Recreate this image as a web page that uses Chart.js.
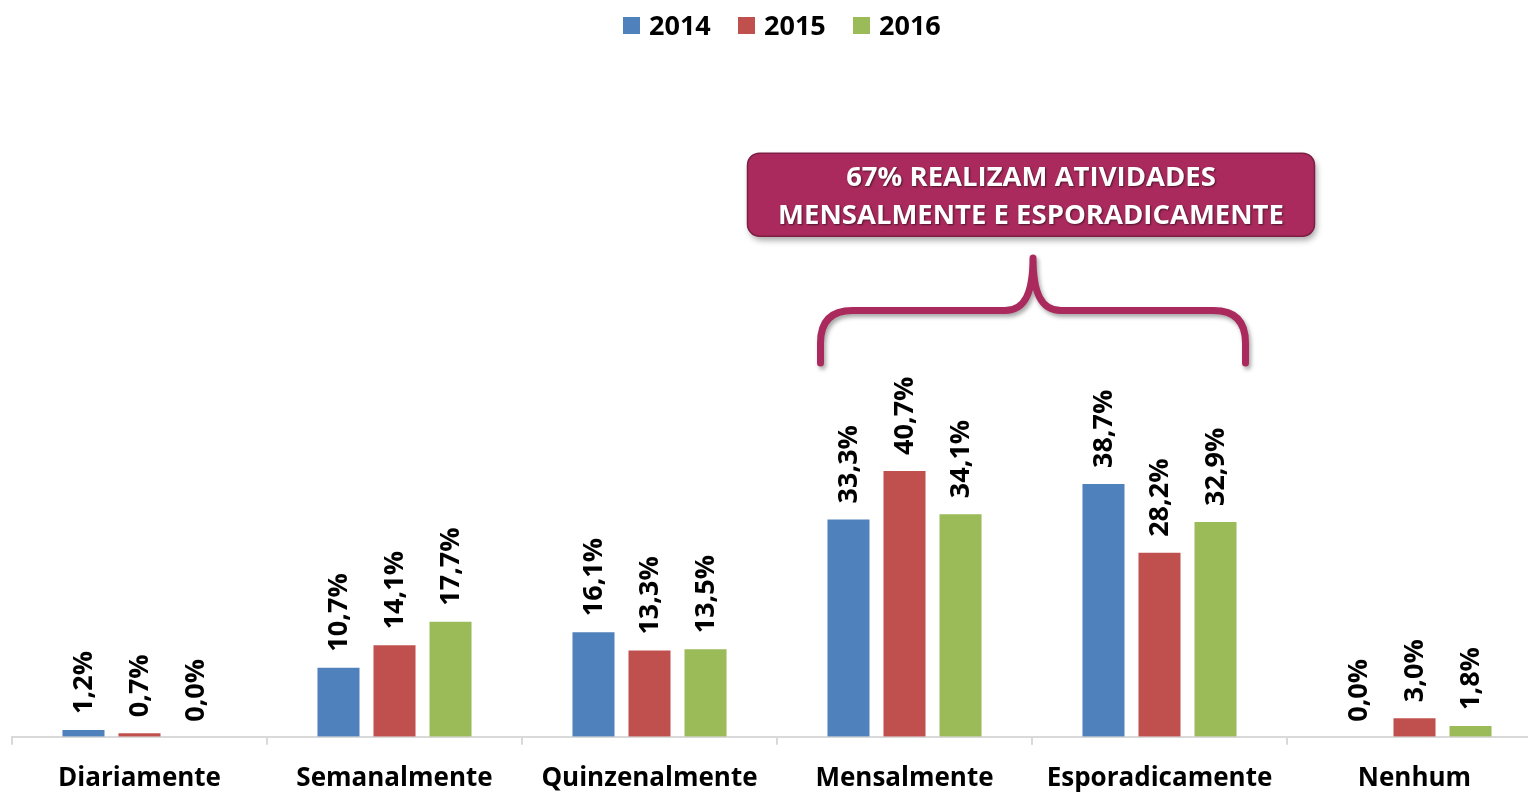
<!DOCTYPE html>
<html>
<head>
<meta charset="utf-8">
<script src="https://cdn.jsdelivr.net/npm/chart.js@4.4.0/dist/chart.umd.min.js"></script>
<style>
  html, body { margin: 0; padding: 0; background: #fff; overflow: hidden; }
  #wrap { width: 1545px; height: 819px; }
</style>
</head>
<body>
<div id="wrap"><canvas id="chart" width="1545" height="819"></canvas></div>
<script>
const categories = ["Diariamente", "Semanalmente", "Quinzenalmente", "Mensalmente", "Esporadicamente", "Nenhum"];
const years = ["2014", "2015", "2016"];
const values2014 = [1.2, 10.7, 16.1, 33.3, 38.7, 0.0];
const values2015 = [0.7, 14.1, 13.3, 40.7, 28.2, 3.0];
const values2016 = [0.0, 17.7, 13.5, 34.1, 32.9, 1.8];
const colors = ["#4F81BD", "#C0504D", "#9BBB59"];

const calloutLines = ["67% REALIZAM ATIVIDADES", "MENSALMENTE E ESPORADICAMENTE"];
const magenta = "#AA2A5D";
const FONT = "'Open Sans', Lato, sans-serif";

// value labels, rotated, above each bar
const barLabels = {
  id: "barLabels",
  afterDatasetsDraw(chart) {
    const ctx = chart.ctx;
    ctx.save();
    ctx.fillStyle = "#000";
    ctx.font = "bold 27px " + FONT;
    ctx.textAlign = "left";
    ctx.textBaseline = "middle";
    chart.data.datasets.forEach((ds, i) => {
      chart.getDatasetMeta(i).data.forEach((bar, j) => {
        const txt = ds.data[j].toFixed(1).replace(".", ",") + "%";
        ctx.save();
        ctx.translate(bar.x + 1, bar.y - 15);
        ctx.rotate(-Math.PI / 2);
        ctx.fillText(txt, 0, 0);
        ctx.restore();
      });
    });
    ctx.restore();
  },
};

// legend drawn by hand to match spacing
const topLegend = {
  id: "topLegend",
  afterDraw(chart) {
    const ctx = chart.ctx;
    ctx.save();
    ctx.font = "bold 27px " + FONT;
    ctx.textBaseline = "middle";
    let x = 623;
    chart.data.datasets.forEach((ds) => {
      ctx.fillStyle = ds.backgroundColor;
      ctx.fillRect(x, 17, 17, 17);
      ctx.fillStyle = "#000";
      ctx.fillText(ds.label, x + 26, 27);
      x += 115;
    });
    ctx.restore();
  },
};

// brace + callout box over Mensalmente / Esporadicamente
const callout = {
  id: "callout",
  afterDraw(chart) {
    const ctx = chart.ctx;
    const xs = chart.scales.x, ys = chart.scales.y;
    const left = xs.getPixelForValue(3) - 84;
    const right = xs.getPixelForValue(4) + 86;
    const mid = (left + right) / 2;
    const bottom = ys.getPixelForValue(57);
    const h = ys.getPixelForValue(65);
    const tip = ys.getPixelForValue(73);

    ctx.save();
    ctx.shadowColor = "rgba(0,0,0,0.35)";
    ctx.shadowBlur = 4;
    ctx.shadowOffsetX = 2;
    ctx.shadowOffsetY = 3;
    ctx.strokeStyle = magenta;
    ctx.lineWidth = 7;
    ctx.lineCap = "round";
    ctx.lineJoin = "round";
    ctx.beginPath();
    ctx.moveTo(left, bottom);
    ctx.lineTo(left, bottom - 20);
    ctx.quadraticCurveTo(left, h, left + 32, h);
    ctx.lineTo(mid - 28, h);
    ctx.bezierCurveTo(mid - 8, h, mid, h - 18, mid, tip);
    ctx.bezierCurveTo(mid, h - 18, mid + 8, h, mid + 28, h);
    ctx.lineTo(right - 32, h);
    ctx.quadraticCurveTo(right, h, right, bottom - 20);
    ctx.lineTo(right, bottom);
    ctx.stroke();

    // box
    const bw = 567, bh = 83;
    const bx = mid - 2 - bw / 2;
    const by = ys.getPixelForValue(89);
    ctx.shadowBlur = 6;
    ctx.shadowOffsetX = 2;
    ctx.shadowOffsetY = 4;
    ctx.fillStyle = magenta;
    ctx.beginPath();
    ctx.roundRect(bx, by, bw, bh, 12);
    ctx.fill();
    ctx.shadowColor = "transparent";
    ctx.strokeStyle = "#7E1E44";
    ctx.lineWidth = 1.5;
    ctx.stroke();

    ctx.fillStyle = "#fff";
    ctx.font = "bold 27.5px " + FONT;
    ctx.textAlign = "center";
    ctx.textBaseline = "middle";
    ctx.shadowColor = "rgba(0,0,0,0.55)";
    ctx.shadowBlur = 2;
    ctx.shadowOffsetX = 1;
    ctx.shadowOffsetY = 1;
    ctx.fillText(calloutLines[0], bx + bw / 2, by + 25);
    ctx.fillText(calloutLines[1], bx + bw / 2, by + 63);
    ctx.restore();
  },
};

new Chart(document.getElementById("chart"), {
  type: "bar",
  data: {
    labels: categories,
    datasets: [
      { label: years[0], data: values2014, backgroundColor: colors[0] },
      { label: years[1], data: values2015, backgroundColor: colors[1] },
      { label: years[2], data: values2016, backgroundColor: colors[2] },
    ].map((d) => ({
      ...d,
      borderColor: "rgba(255,255,255,0.35)",
      borderWidth: 1,
      categoryPercentage: 0.659,
      barPercentage: 0.786,
    })),
  },
  options: {
    responsive: false,
    animation: false,
    layout: { padding: { top: 81, left: 12, right: 3, bottom: 7 } },
    plugins: { legend: { display: false }, tooltip: { enabled: false } },
    scales: {
      x: {
        border: { color: "#D9D9D9", width: 2 },
        grid: { drawOnChartArea: false, drawTicks: true, tickLength: 8, color: "#D9D9D9", lineWidth: 2 },
        ticks: { color: "#000", font: { family: FONT, size: 26, weight: "bold" }, padding: 18, maxRotation: 0 },
      },
      y: { display: false, min: 0, max: 100 },
    },
  },
  plugins: [barLabels, topLegend, callout],
});
</script>
</body>
</html>
